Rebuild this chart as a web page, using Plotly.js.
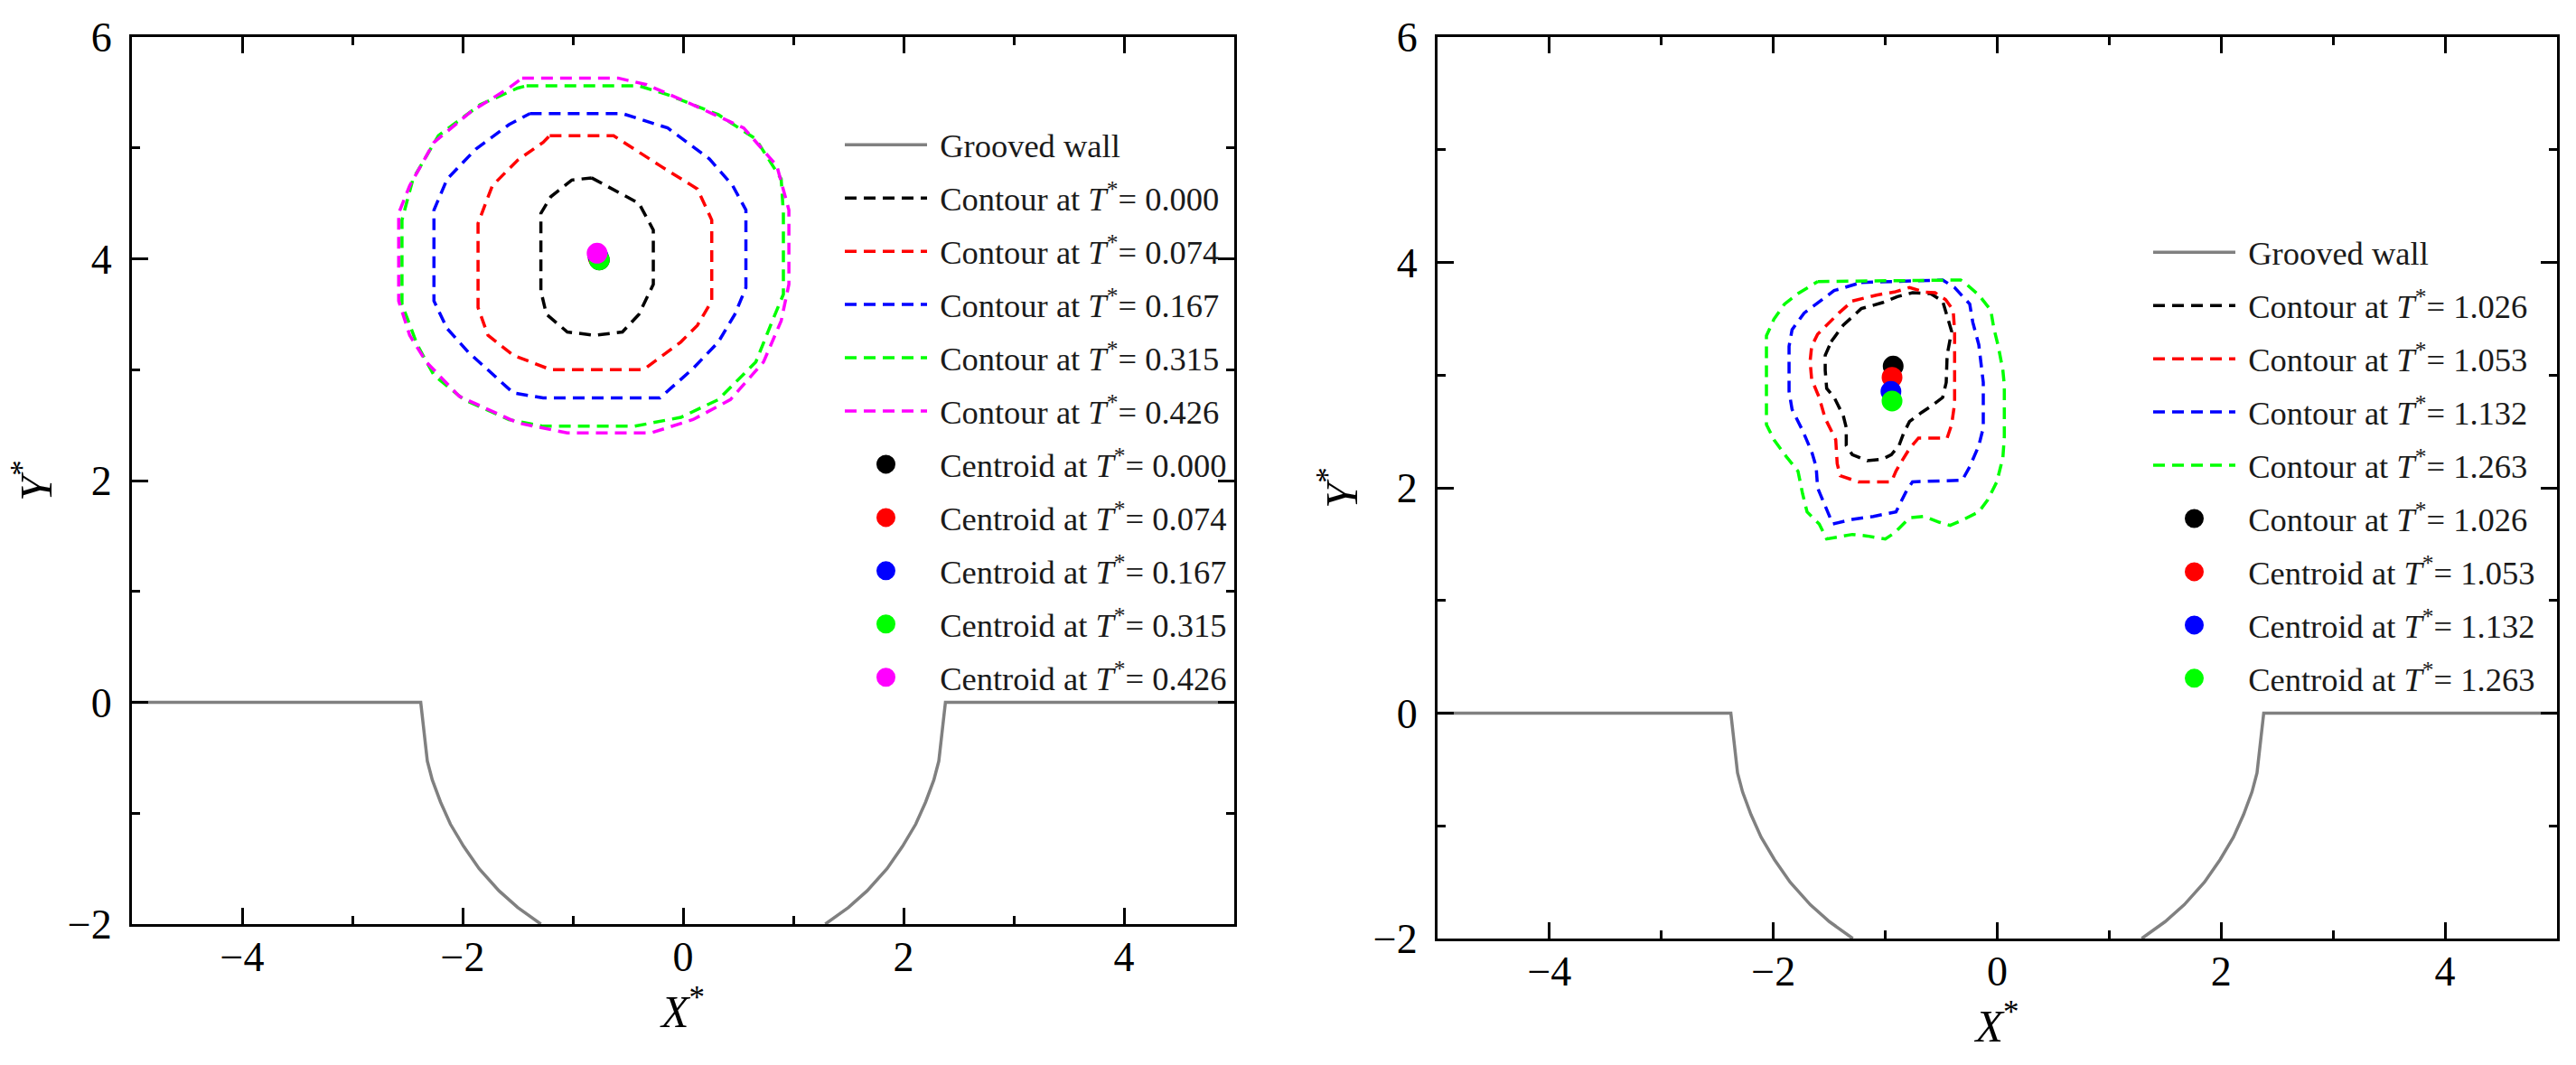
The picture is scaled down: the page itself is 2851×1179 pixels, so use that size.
<!DOCTYPE html>
<html>
<head>
<meta charset="utf-8">
<script src="https://cdn.plot.ly/plotly-3.0.1.min.js"></script>
<style>html,body{margin:0;padding:0;background:#fff;}#chart{width:2851px;height:1179px;}</style>
</head>
<body>
<div id="chart"></div>
<script>
// ---------- data ----------
// Grooved wall (same geometry in both panels)
const wallX = [-5, -2.38, -2.32, -2.275, -2.20, -2.11, -1.99, -1.85, -1.67, -1.50, -1.29, null,
               1.29, 1.50, 1.67, 1.85, 1.99, 2.11, 2.20, 2.275, 2.32, 2.38, 5];
const wallY = [0, 0, -0.53, -0.70, -0.90, -1.10, -1.30, -1.50, -1.70, -1.85, -2.0, null,
               -2.0, -1.85, -1.70, -1.50, -1.30, -1.10, -0.90, -0.70, -0.53, 0, 0];

// Left panel contours
const L0x = [-0.83,-0.40,-0.27,-0.27,-0.40,-0.55,-0.80,-1.05,-1.24,-1.29,-1.29,-1.20,-1.01,-0.83];
const L0y = [4.73,4.50,4.26,3.77,3.50,3.34,3.31,3.34,3.50,3.71,4.41,4.56,4.71,4.73];
const L1x = [-1.21,-0.63,-0.21,0.13,0.26,0.26,0.13,-0.02,-0.36,-1.20,-1.54,-1.77,-1.86,-1.86,-1.73,-1.50,-1.27,-1.21];
const L1y = [5.11,5.11,4.84,4.63,4.35,3.62,3.40,3.25,3.00,3.00,3.13,3.31,3.56,4.32,4.66,4.89,5.05,5.11];
const L2x = [-1.39,-0.55,-0.14,0.24,0.45,0.57,0.57,0.47,0.32,0.09,-0.21,-1.27,-1.54,-1.95,-2.14,-2.26,-2.26,-2.14,-1.88,-1.58,-1.39];
const L2y = [5.31,5.31,5.18,4.90,4.66,4.44,3.74,3.50,3.25,3.01,2.745,2.745,2.79,3.16,3.37,3.62,4.44,4.72,4.99,5.21,5.31];
const L3x = [-1.42,-0.40,-0.14,0.32,0.66,0.89,0.91,0.91,0.81,0.66,0.32,-0.02,-0.44,-1.27,-1.58,-1.99,-2.26,-2.41,-2.55,-2.55,-2.45,-2.22,-1.84,-1.50,-1.42];
const L3y = [5.56,5.56,5.48,5.30,5.08,4.72,4.41,3.68,3.44,3.07,2.73,2.57,2.49,2.49,2.55,2.73,2.95,3.22,3.59,4.35,4.72,5.11,5.39,5.54,5.56];
const L4x = [-1.46,-0.59,-0.33,0.02,0.55,0.85,0.96,0.96,0.89,0.73,0.43,0.09,-0.29,-1.05,-1.50,-2.03,-2.33,-2.48,-2.58,-2.58,-2.48,-2.26,-1.92,-1.58,-1.46];
const L4y = [5.63,5.63,5.57,5.42,5.18,4.84,4.44,3.77,3.44,3.07,2.73,2.55,2.43,2.43,2.52,2.76,3.07,3.31,3.62,4.41,4.66,5.05,5.33,5.54,5.63];
// Left panel centroids (T* = 0.000, 0.074, 0.167, 0.315, 0.426)
const leftCentroidX = [-0.76, -0.77, -0.77, -0.76, -0.78];
const leftCentroidY = [3.99, 4.01, 4.02, 3.99, 4.05];
const leftTimes = ['0.000', '0.074', '0.167', '0.315', '0.426'];

// Right panel contours
const R0x = [-1.484,-1.376,-1.215,-1.026,-0.892,-0.757,-0.596,-0.488,-0.408,-0.448,-0.456,-0.488,-0.596,-0.677,-0.784,-0.838,-0.878,-0.946,-1.026,-1.161,-1.295,-1.349,-1.349,-1.376,-1.457,-1.524,-1.537,-1.537,-1.484];
const R0y = [3.296,3.443,3.590,3.643,3.697,3.731,3.723,3.657,3.389,3.176,2.935,2.801,2.721,2.668,2.588,2.481,2.374,2.294,2.254,2.240,2.294,2.374,2.534,2.641,2.802,2.882,3.042,3.176,3.296];
const R1x = [-1.295,-1.080,-0.919,-0.784,-0.650,-0.556,-0.461,-0.394,-0.381,-0.381,-0.408,-0.448,-0.704,-0.784,-0.851,-0.905,-0.946,-1.242,-1.403,-1.430,-1.443,-1.537,-1.591,-1.658,-1.672,-1.658,-1.605,-1.524,-1.416,-1.295];
const R1y = [3.657,3.710,3.737,3.777,3.737,3.731,3.670,3.576,3.389,2.748,2.561,2.441,2.441,2.347,2.240,2.147,2.053,2.053,2.107,2.214,2.427,2.615,2.802,2.962,3.122,3.256,3.363,3.443,3.550,3.657];
const R2x = [-1.215,-0.488,-0.381,-0.246,-0.219,-0.165,-0.125,-0.125,-0.165,-0.246,-0.313,-0.757,-0.811,-0.851,-0.905,-1.107,-1.295,-1.470,-1.524,-1.605,-1.618,-1.658,-1.739,-1.833,-1.860,-1.860,-1.833,-1.726,-1.457,-1.215];
const R2y = [3.822,3.844,3.777,3.630,3.470,3.269,2.935,2.534,2.374,2.187,2.067,2.053,1.973,1.893,1.786,1.746,1.719,1.679,1.813,2.000,2.187,2.321,2.508,2.695,2.855,3.256,3.403,3.550,3.750,3.822];
const R3x = [-1.605,-0.327,-0.273,-0.165,-0.058,-0.031,0.009,0.050,0.063,0.063,0.050,-0.004,-0.085,-0.165,-0.327,-0.421,-0.515,-0.650,-0.784,-0.919,-1.000,-1.161,-1.295,-1.524,-1.591,-1.699,-1.739,-1.780,-1.887,-1.995,-2.062,-2.062,-1.995,-1.901,-1.780,-1.605];
const R3y = [3.830,3.844,3.804,3.710,3.576,3.416,3.256,3.042,2.908,2.454,2.267,2.053,1.893,1.786,1.706,1.666,1.693,1.746,1.733,1.599,1.546,1.572,1.586,1.546,1.679,1.786,1.946,2.147,2.280,2.427,2.561,3.349,3.496,3.630,3.723,3.830];
// Right panel centroids (T* = 1.026, 1.053, 1.132, 1.263)
const rightCentroidX = [-0.93, -0.94, -0.95, -0.94];
const rightCentroidY = [3.08, 2.98, 2.855, 2.77];
const rightTimes = ['1.026', '1.053', '1.132', '1.263'];
const rightCentroidNames = ['Contour at', 'Centroid at', 'Centroid at', 'Centroid at'];

const leftColors = ['#000000', '#ff0000', '#0000ff', '#00ff00', '#ff00ff'];
const rightColors = ['#000000', '#ff0000', '#0000ff', '#00ff00'];

// ---------- figure ----------
const W = 2851, H = 1179;
const FONT = 'Liberation Serif';
const NB = '\u00a0';
const tlab = t => '<i>T</i><sup>*</sup>= ' + t;

const traces = [];
let g = 0;
function wall(xa, ya, leg) {
  traces.push({x: wallX, y: wallY, xaxis: xa, yaxis: ya, legend: leg, legendgroup: 'g' + (g++),
    mode: 'lines', name: NB + 'Grooved wall', connectgaps: false,
    line: {color: '#808080', width: 3.5}, hoverinfo: 'skip'});
}
function contour(xs, ys, color, t, xa, ya, leg) {
  traces.push({x: xs, y: ys, xaxis: xa, yaxis: ya, legend: leg, legendgroup: 'g' + (g++),
    mode: 'lines', name: NB + 'Contour at ' + tlab(t),
    line: {color: color, width: 3.5, dash: '13px,8px'}, hoverinfo: 'skip'});
}
function centroid(x, y, color, label, xa, ya, leg) {
  traces.push({x: [x], y: [y], xaxis: xa, yaxis: ya, legend: leg, legendgroup: 'g' + (g++),
    mode: 'markers', name: NB + label,
    marker: {color: color, size: 18, line: {color: color, width: 5}}, hoverinfo: 'skip'});
}

// left panel
wall('x', 'y', 'legend');
[[L0x, L0y], [L1x, L1y], [L2x, L2y], [L3x, L3y], [L4x, L4y]].forEach((c, i) =>
  contour(c[0], c[1], leftColors[i], leftTimes[i], 'x', 'y', 'legend'));
leftTimes.forEach((t, i) =>
  centroid(leftCentroidX[i], leftCentroidY[i], leftColors[i], 'Centroid at ' + tlab(t), 'x', 'y', 'legend'));

// right panel
wall('x2', 'y2', 'legend2');
[[R0x, R0y], [R1x, R1y], [R2x, R2y], [R3x, R3y]].forEach((c, i) =>
  contour(c[0], c[1], rightColors[i], rightTimes[i], 'x2', 'y2', 'legend2'));
rightTimes.forEach((t, i) =>
  centroid(rightCentroidX[i], rightCentroidY[i], rightColors[i], rightCentroidNames[i] + ' ' + tlab(t), 'x2', 'y2', 'legend2'));

function common() {
  return {
    showline: true, linecolor: '#000', linewidth: 3, mirror: 'ticks',
    ticks: 'inside', ticklen: 18, tickwidth: 3, tickcolor: '#000',
    tick0: 0, dtick: 2,
    minor: {dtick: 1, ticks: 'inside', ticklen: 9, tickwidth: 3, tickcolor: '#000', showgrid: false},
    showgrid: false, zeroline: false, automargin: false, fixedrange: true,
    tickfont: {family: FONT, size: 46, color: '#000'}
  };
}
function xAxis(domain, anchor) {
  return Object.assign(common(), {
    range: [-5, 5], domain: domain, anchor: anchor, ticklabelstandoff: -6,
    title: {text: '<i>X</i><sup>*</sup>', font: {family: FONT, size: 50, color: '#000'}, standoff: 0}
  });
}
function yAxis(domain, anchor) {
  return Object.assign(common(), {
    range: [-2, 6], domain: domain, anchor: anchor, ticklabelstandoff: 10,
    title: {text: '<i>Y</i><sup>*</sup>', font: {family: FONT, size: 50, color: '#000'}, standoff: 2}
  });
}
function legendCfg(xpx, ytop) {
  return {
    x: xpx / W, xanchor: 'left', y: 1 - ytop / H, yanchor: 'top',
    bgcolor: 'rgba(0,0,0,0)', borderwidth: 0, itemwidth: 91,
    tracegroupgap: 8.5, traceorder: 'grouped',
    font: {family: FONT, size: 36.5, color: '#1a1a1a'},
    itemclick: false, itemdoubleclick: false
  };
}

const layout = {
  width: W, height: H,
  margin: {l: 0, r: 0, t: 0, b: 0, pad: 0},
  paper_bgcolor: '#fff', plot_bgcolor: '#fff',
  font: {family: FONT, color: '#000'},
  showlegend: true,
  xaxis: xAxis([146 / W, 1366 / W], 'y'),
  yaxis: yAxis([1 - 1023 / H, 1 - 41 / H], 'x'),
  xaxis2: xAxis([1591 / W, 2830 / W], 'y2'),
  yaxis2: yAxis([1 - 1039 / H, 1 - 41 / H], 'x2'),
  legend: legendCfg(930, 130),
  legend2: legendCfg(2378, 249)
};

Plotly.newPlot('chart', traces, layout, {staticPlot: true, displayModeBar: false});
</script>
</body>
</html>
